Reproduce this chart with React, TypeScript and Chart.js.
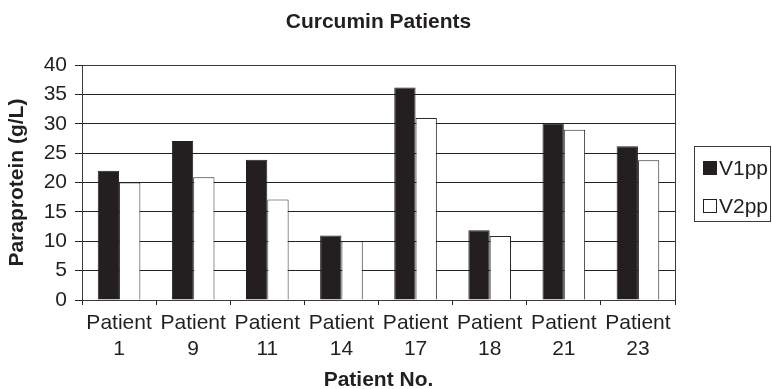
import { useEffect, useRef } from "react";
import { Chart, registerables } from "chart.js";

Chart.register(...registerables);

// Paraprotein levels per patient at two visits
const patientIds = ["1", "9", "11", "14", "17", "18", "21", "23"];
const seriesNames = ["V1pp", "V2pp"];
const v1pp = [22, 27.1, 23.9, 11, 36.2, 11.9, 30.1, 26.2];
const v2pp = [20, 20.9, 17.1, 10, 31, 10.9, 29, 23.8];
const yMin = 0;
const yMax = 40;
const yStep = 5;

const WIDTH = 772;
const HEIGHT = 389;
const FONT = "Arial, 'Liberation Sans', Helvetica, sans-serif";
const INK = "#231f20";
const seriesFill = [INK, "#ffffff"];

// Outline around the plotting area (top and right edges)
const plotFrame = {
  id: "plotFrame",
  afterDatasetsDraw(chart: Chart) {
    const { ctx, chartArea } = chart;
    ctx.save();
    ctx.strokeStyle = "#3a3a3a";
    ctx.lineWidth = 1;
    ctx.strokeRect(
      Math.round(chartArea.left) + 0.5,
      Math.round(chartArea.top) + 0.5,
      Math.round(chartArea.right - chartArea.left),
      Math.round(chartArea.bottom - chartArea.top)
    );
    ctx.restore();
  },
};

export default function App() {
  const canvasRef = useRef<HTMLCanvasElement | null>(null);

  useEffect(() => {
    const canvas = canvasRef.current;
    if (!canvas) return;
    const chart = new Chart(canvas, {
      type: "bar",
      data: {
        labels: patientIds.map((id) => ["Patient", id]),
        datasets: [
          {
            label: seriesNames[0],
            data: v1pp,
            backgroundColor: seriesFill[0],
            borderColor: INK,
            borderWidth: 1,
          },
          {
            label: seriesNames[1],
            data: v2pp,
            backgroundColor: seriesFill[1],
            borderColor: "#2a2a2a",
            borderWidth: 1,
          },
        ],
      },
      options: {
        responsive: false,
        animation: false,
        devicePixelRatio: 1,
        layout: { padding: { left: 0, right: 97, top: 0, bottom: 0 } },
        datasets: {
          bar: { categoryPercentage: 0.575, barPercentage: 1 },
        },
        plugins: {
          legend: { display: false },
          tooltip: { enabled: false },
          title: {
            display: true,
            fullSize: false,
            text: "Curcumin Patients",
            color: INK,
            font: { family: FONT, size: 21, weight: "bold", lineHeight: 1.2 },
            padding: { top: 10, bottom: 30 },
          },
        },
        scales: {
          x: {
            afterFit(scale: any) {
              scale.height = 89;
            },
            grid: {
              display: true,
              drawOnChartArea: false,
              drawTicks: true,
              tickLength: 5,
              color: "#222",
              offset: true,
            },
            border: { display: true, color: "#222", width: 1 },
            ticks: {
              color: INK,
              padding: 6,
              maxRotation: 0,
              autoSkip: false,
              font: { family: FONT, size: 21, lineHeight: 1.2 },
            },
            title: {
              display: true,
              text: "Patient No.",
              color: INK,
              font: { family: FONT, size: 21, weight: "bold", lineHeight: 1 },
              padding: { top: 0, bottom: -2 },
            },
          },
          y: {
            min: yMin,
            max: yMax,
            afterFit(scale: any) {
              scale.width = 82;
            },
            grid: {
              color: "#222",
              lineWidth: 1,
              drawTicks: true,
              tickLength: 7,
            },
            border: { display: true, color: "#222", width: 1 },
            ticks: {
              stepSize: yStep,
              color: INK,
              padding: 8,
              font: { family: FONT, size: 21 },
            },
            title: {
              display: true,
              text: "Paraprotein (g/L)",
              color: INK,
              font: { family: FONT, size: 21, weight: "bold", lineHeight: 1.2 },
              padding: { top: 5, bottom: 0 },
            },
          },
        },
      },
      plugins: [plotFrame],
    });
    return () => chart.destroy();
  }, []);

  return (
    <div
      style={{
        position: "absolute",
        left: 0,
        top: 0,
        width: WIDTH,
        height: HEIGHT,
        background: "#ffffff",
        fontFamily: FONT,
      }}
    >
      <canvas
        ref={canvasRef}
        width={WIDTH}
        height={HEIGHT}
        style={{ width: WIDTH, height: HEIGHT, display: "block" }}
      />
      <div
        style={{
          position: "absolute",
          left: 694,
          top: 146,
          width: 77,
          height: 76,
          border: "1px solid #3a3a3a",
          boxSizing: "border-box",
        }}
      >
        {seriesNames.map((name, i) => (
          <div
            key={name}
            style={{
              position: "absolute",
              left: 8,
              top: 9 + i * 38,
              height: 24,
              display: "flex",
              alignItems: "center",
              whiteSpace: "nowrap",
              fontSize: 21,
              color: INK,
              lineHeight: "24px",
            }}
          >
            <span
              style={{
                display: "inline-block",
                width: 12,
                height: 12,
                background: seriesFill[i],
                border: `1px solid ${INK}`,
                marginRight: 2,
              }}
            />
            {name}
          </div>
        ))}
      </div>
    </div>
  );
}
